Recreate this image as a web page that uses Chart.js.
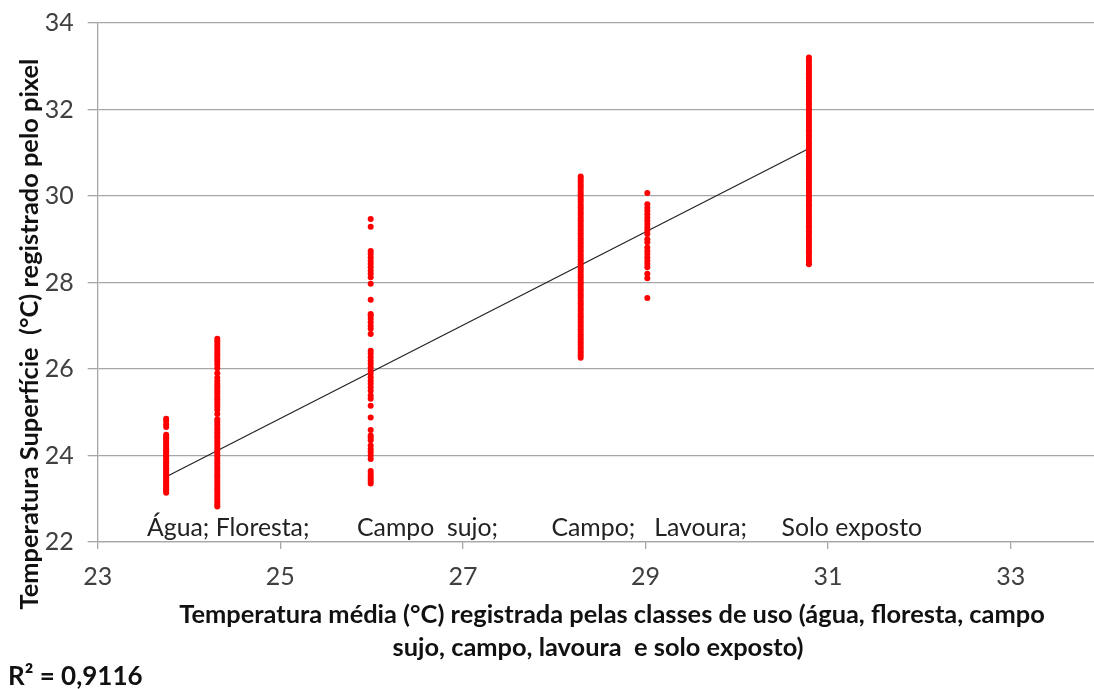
<!DOCTYPE html>
<html>
<head>
<meta charset="utf-8">
<script src="https://cdn.jsdelivr.net/npm/chart.js@4/dist/chart.umd.min.js"></script>
<style>
  html, body { margin: 0; padding: 0; background: #fff; overflow: hidden; }
  #wrap { width: 1094px; height: 689px; overflow: hidden; }
  #chart { display: block; margin-top: -6px; }
</style>
</head>
<body>
<div id="wrap"><canvas id="chart" width="1115" height="695"></canvas></div>
<script>
// Surface temperature per pixel (y) against mean class temperature (x)
const xTicks = [23, 25, 27, 29, 31, 33];
const yTicks = [22, 24, 26, 28, 30, 32, 34];

const classX = { agua: 23.75, floresta: 24.31, campoSujo: 25.99, campo: 28.29, lavoura: 29.02, solo: 30.79 };

const aguaY = [24.85, 24.80, 24.72, 24.66, 24.48, 24.44, 24.40, 24.36, 24.31, 24.27, 24.22, 24.18, 24.14, 24.10,
  24.06, 24.02, 23.98, 23.94, 23.90, 23.86, 23.82, 23.78, 23.74, 23.70, 23.66, 23.62, 23.58, 23.54, 23.50,
  23.46, 23.42, 23.38, 23.34, 23.30, 23.26, 23.22, 23.18, 23.14];

const florestaY = [26.70, 26.64, 26.58, 26.52, 26.46, 26.40, 26.34, 26.28, 26.22, 26.16, 26.10, 26.02, 25.90,
  25.80, 25.72, 25.66, 25.60, 25.54, 25.48, 25.42, 25.36, 25.30, 25.24, 25.18, 25.12, 25.06, 24.96, 24.84,
  24.78, 24.72, 24.66, 24.60, 24.54, 24.48, 24.42, 24.36, 24.30, 24.24, 24.18, 24.12, 24.06, 24.00, 23.94,
  23.88, 23.82, 23.76, 23.70, 23.64, 23.58, 23.52, 23.46, 23.40, 23.34, 23.28, 23.22, 23.16, 23.10, 23.04,
  22.98, 22.92, 22.86, 22.82];

const campoSujoY = [29.47, 29.29, 28.73, 28.66, 28.58, 28.50, 28.43, 28.35, 28.27, 28.20, 28.12, 27.97, 27.60,
  27.27, 27.23, 27.16, 27.08, 27.00, 26.93, 26.81, 26.42, 26.35, 26.27, 26.19, 26.12, 26.04, 25.96, 25.89,
  25.81, 25.73, 25.66, 25.58, 25.50, 25.39, 25.31, 25.15, 24.88, 24.59, 24.46, 24.41, 24.35, 24.23, 24.15,
  24.08, 24.00, 23.92, 23.64, 23.58, 23.52, 23.46, 23.41, 23.35];

const campoY = [30.45, 30.40, 30.34, 30.28, 30.22, 30.16, 30.10, 30.04, 29.98, 29.92, 29.86, 29.80, 29.74, 29.68,
  29.62, 29.56, 29.50, 29.44, 29.38, 29.32, 29.26, 29.20, 29.14, 29.08, 29.02, 28.96, 28.90, 28.84, 28.78,
  28.72, 28.66, 28.60, 28.54, 28.48, 28.42, 28.36, 28.30, 28.24, 28.18, 28.12, 28.06, 28.00, 27.94, 27.88,
  27.82, 27.76, 27.70, 27.64, 27.58, 27.52, 27.46, 27.40, 27.34, 27.28, 27.22, 27.16, 27.10, 27.04, 26.98,
  26.92, 26.86, 26.80, 26.74, 26.68, 26.62, 26.56, 26.50, 26.44, 26.38, 26.32, 26.26];

const lavouraY = [30.07, 29.81, 29.73, 29.66, 29.58, 29.50, 29.43, 29.35, 29.27, 29.20, 29.12, 29.00, 28.93,
  28.81, 28.73, 28.66, 28.58, 28.50, 28.43, 28.35, 28.20, 28.10, 27.64];

const soloY = [33.20, 33.14, 33.08, 33.02, 32.96, 32.90, 32.84, 32.78, 32.72, 32.66, 32.60, 32.54, 32.48, 32.42,
  32.36, 32.30, 32.24, 32.18, 32.12, 32.06, 32.00, 31.94, 31.88, 31.82, 31.76, 31.70, 31.64, 31.58, 31.52,
  31.46, 31.40, 31.34, 31.28, 31.22, 31.16, 31.10, 31.04, 30.98, 30.92, 30.86, 30.80, 30.74, 30.68, 30.62,
  30.56, 30.50, 30.44, 30.38, 30.32, 30.26, 30.20, 30.14, 30.08, 30.02, 29.96, 29.90, 29.84, 29.78, 29.72,
  29.66, 29.60, 29.54, 29.48, 29.42, 29.36, 29.30, 29.24, 29.18, 29.12, 29.06, 29.00, 28.94, 28.88, 28.82,
  28.76, 28.70, 28.64, 28.58, 28.52, 28.46, 28.42];

// trend line end points
const trendX = [23.75, 30.79];
const trendY = [23.51, 31.10];

const classLabels = [
  { x: 23.54, text: 'Água; Floresta;' },
  { x: 25.84, text: 'Campo  sujo;' },
  { x: 27.97, text: 'Campo;   Lavoura;' },
  { x: 30.49, text: 'Solo exposto' }
];
const xTitle = ['Temperatura média (°C) registrada pelas classes de uso (água, floresta, campo',
                'sujo, campo, lavoura  e solo exposto)'];
const yTitle = 'Temperatura Superfície  (°C) registrado pelo pixel';
const r2Text = 'R² = 0,9116';

const pts = [];
[[classX.agua, aguaY], [classX.floresta, florestaY], [classX.campoSujo, campoSujoY],
 [classX.campo, campoY], [classX.lavoura, lavouraY], [classX.solo, soloY]].forEach(([x, ys]) => {
  ys.forEach(y => pts.push({ x, y }));
});

const FONT = 'Lato, "Open Sans", sans-serif';
const OFF = 6; // canvas is shifted up by this much

const textPlugin = {
  id: 'texts',
  afterDraw(chart) {
    const { ctx, scales: { x } } = chart;
    ctx.save();
    ctx.fillStyle = '#222';
    ctx.font = '24.8px ' + FONT;
    ctx.textAlign = 'left';
    ctx.textBaseline = 'alphabetic';
    classLabels.forEach(l => ctx.fillText(l.text, x.getPixelForValue(l.x), 536 + OFF));

    ctx.font = 'bold 25.4px ' + FONT;
    ctx.fillStyle = '#111';
    ctx.textAlign = 'center';
    ctx.textBaseline = 'middle';
    ctx.fillText(xTitle[0], 612, 615 + OFF);
    ctx.fillText(xTitle[1], 598, 648 + OFF);

    ctx.save();
    ctx.translate(30, 334 + OFF);
    ctx.rotate(-Math.PI / 2);
    ctx.fillText(yTitle, 0, 0);
    ctx.restore();

    ctx.font = 'bold 26px ' + FONT;
    ctx.textAlign = 'left';
    ctx.fillText(r2Text, 8, 677 + OFF);
    ctx.restore();
  }
};

new Chart(document.getElementById('chart'), {
  type: 'scatter',
  data: {
    datasets: [
      { data: pts, backgroundColor: '#ff0000', borderWidth: 0, pointRadius: 3 },
      { type: 'line', data: trendX.map((v, i) => ({ x: v, y: trendY[i] })), borderColor: '#222',
        borderWidth: 1.2, pointRadius: 0, fill: false, tension: 0 }
    ]
  },
  options: {
    responsive: false,
    animation: false,
    layout: { padding: { top: 12, right: 13, left: 0, bottom: 0 } },
    plugins: { legend: { display: false }, tooltip: { enabled: false } },
    scales: {
      x: {
        type: 'linear', min: 23, max: 34,
        afterBuildTicks: s => { s.ticks = xTicks.map(v => ({ value: v })); },
        afterFit: s => { s.height = 147; },
        grid: { drawOnChartArea: false, drawTicks: true, tickLength: 7, color: '#a6a6a6', lineWidth: 1.3 },
        border: { color: '#a6a6a6', width: 1.3 },
        ticks: { color: '#404040', font: { family: FONT, size: 25 }, padding: 13, maxRotation: 0 }
      },
      y: {
        min: 22, max: 34,
        afterBuildTicks: s => { s.ticks = yTicks.map(v => ({ value: v })); },
        afterFit: s => { s.width = 97.7; },
        grid: { color: '#a6a6a6', lineWidth: 1.3, tickLength: 10 },
        border: { color: '#a6a6a6', width: 1.3 },
        ticks: { color: '#404040', font: { family: FONT, size: 25 }, padding: 14 }
      }
    }
  },
  plugins: [textPlugin]
});
</script>
</body>
</html>
